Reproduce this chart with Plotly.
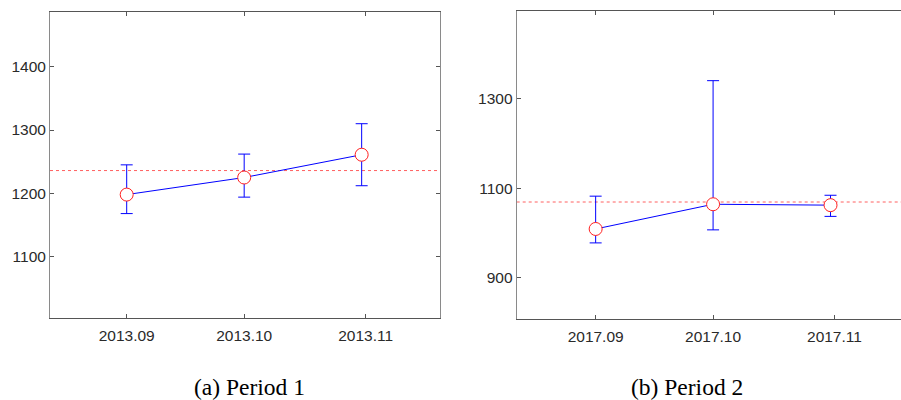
import plotly.graph_objects as go

# ---- data ----
dates1 = ["2013-09-01", "2013-10-01", "2013-10-31"]
mean1 = [1198, 1225, 1261]
upper1 = [1245, 1262, 1310]
lower1 = [1168, 1194, 1212]
ref1 = 1236

dates2 = ["2017-09-01", "2017-10-01", "2017-10-31"]
mean2 = [1009, 1064, 1062]
upper2 = [1082, 1339, 1084]
lower2 = [978, 1007, 1037]
ref2 = 1069

captions = ["(a) Period 1", "(b) Period 2"]

fig = go.Figure()

def add_series(x, m, up, lo, xa, ya):
    fig.add_trace(go.Scatter(
        x=x, y=m, xaxis=xa, yaxis=ya, mode="lines+markers",
        line=dict(color="#0000ff", width=1),
        marker=dict(symbol="circle", size=13, color="white",
                    line=dict(color="#ff2020", width=1)),
        error_y=dict(type="data", symmetric=False,
                     array=[u - v for u, v in zip(up, m)],
                     arrayminus=[v - l for v, l in zip(m, lo)],
                     color="#0000ff", thickness=1, width=6),
        showlegend=False, hoverinfo="skip"))

add_series(dates1, mean1, upper1, lower1, "x", "y")
add_series(dates2, mean2, upper2, lower2, "x2", "y2")

for ref, xr, yr in [(ref1, "x domain", "y"), (ref2, "x2 domain", "y2")]:
    fig.add_shape(type="line", xref=xr, yref=yr, x0=0, x1=1, y0=ref, y1=ref,
                  line=dict(color="#ff6060", width=1, dash="dot"), layer="below")

tickfont = dict(family="Liberation Sans", size=15.5, color="#2a2a2a")
xcommon = dict(type="date", tickformat="%Y.%m", dtick="M1", ticks="inside", ticklen=4,
               showgrid=False, zeroline=False, showline=True, linecolor="#555555",
               linewidth=1, tickcolor="#555555", tickfont=tickfont, ticklabelstandoff=3)
ycommon = dict(ticks="inside", ticklen=4, showgrid=False, zeroline=False, showline=True,
               linecolor="#8a8a8a", linewidth=1, tickcolor="#555555", tickfont=tickfont,
               ticklabelstandoff=0)

fig.update_layout(
    width=901, height=400,
    margin=dict(l=0, r=0, t=0, b=0),
    paper_bgcolor="white", plot_bgcolor="white",
    xaxis=dict(xcommon, domain=[50 / 901, 440 / 901], anchor="y", mirror="ticks",
               tick0="2013-09-01", range=["2013-08-12 10:00", "2013-11-20"]),
    yaxis=dict(ycommon, domain=[82 / 400, 388.3 / 400], anchor="x", mirror="ticks",
               range=[1003, 1487], tickvals=[1100, 1200, 1300, 1400]),
    xaxis2=dict(xcommon, domain=[516.7 / 901, 1.0], anchor="y2", mirror="ticks",
                tick0="2017-09-01", range=["2017-08-11 20:00", "2017-11-18"]),
    yaxis2=dict(ycommon, domain=[80.7 / 400, 389 / 400], anchor="x2", mirror=False,
                range=[808, 1494], tickvals=[900, 1100, 1300]),
)

for txt, xc in zip(captions, [250 / 901, 686.5 / 901]):
    fig.add_annotation(text=txt, xref="paper", yref="paper", x=xc, y=13 / 400,
                       xanchor="center", yanchor="middle", showarrow=False,
                       font=dict(family="Liberation Serif", size=23.5, color="black"))

fig.write_html("out.html", config={"displayModeBar": False},
               post_script="document.body.style.margin='0';document.body.style.overflow='hidden';")
